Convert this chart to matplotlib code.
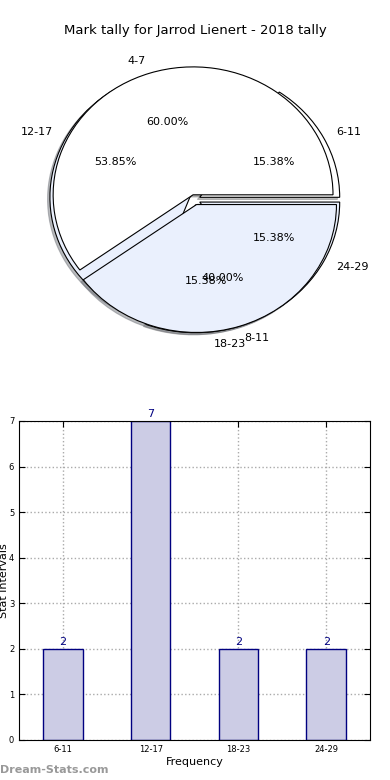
import matplotlib
matplotlib.use('Agg')
import matplotlib.pyplot as plt

# stat intervals and counts
intervals = ['6-11', '12-17', '18-23', '24-29']
counts = [2, 7, 2, 2]

# second pie on the same axes
groups = ['4-7', '8-11']
group_counts = [3, 2]

pie_colors = ['white', '#eaf0fd']
shadow = {'ox': -0.012, 'oy': -0.012, 'shade': 0.5}

fig = plt.figure(figsize=(3.9, 7.8), dpi=100)
fig.text(0.5, 0.961, 'Mark tally for Jarrod Lienert - 2018 tally',
         ha='center', va='center', fontsize=9.5)

ax1 = fig.add_axes([0.051, 0.539, 0.897, 0.41])
ax1.pie(counts, labels=intervals, autopct='%.2f%%', explode=[0.04] * len(counts),
        colors=pie_colors * 2, shadow=shadow,
        wedgeprops={'linewidth': 0.8, 'edgecolor': 'black'},
        textprops={'fontsize': 8})
ax1.pie(group_counts, labels=groups, autopct='%.2f%%', explode=[0.04] * len(group_counts),
        colors=pie_colors, shadow=shadow,
        wedgeprops={'linewidth': 0.8, 'edgecolor': 'black'},
        textprops={'fontsize': 8})
ax1.set_aspect('auto')
ax1.set_xlim(-1.25, 1.25)
ax1.set_ylim(-1.25, 1.25)

ax2 = fig.add_axes([0.049, 0.0513, 0.9, 0.409])
x = range(len(intervals))
bars = ax2.bar(x, counts, width=0.45, color='#ccccE5', edgecolor='navy', linewidth=1, zorder=2)
for b, v in zip(bars, counts):
    ax2.text(b.get_x() + b.get_width() / 2, v + 0.05, str(v), ha='center', va='bottom',
             color='navy', fontsize=8)
ax2.set_xlim(-0.5, 3.5)
ax2.set_ylim(0, 7)
ax2.set_xticks(list(x))
ax2.set_xticklabels(intervals)
ax2.set_yticks(range(8))
ax2.tick_params(direction='in', labelsize=6, top=True, right=True, length=4)
ax2.grid(True, linestyle=':', color='#aaaaaa', linewidth=1, zorder=0)
ax2.set_axisbelow(True)
ax2.set_xlabel('Frequency', fontsize=8, labelpad=2)
ax2.set_ylabel('Stat intervals', fontsize=8)
ax2.yaxis.set_label_coords(-0.03, 0.5)

fig.text(0.0, 0.013, 'Dream-Stats.com', color='#999999', fontsize=8, fontweight='bold',
         ha='left', va='center')

fig.savefig('out.png', dpi=100)
